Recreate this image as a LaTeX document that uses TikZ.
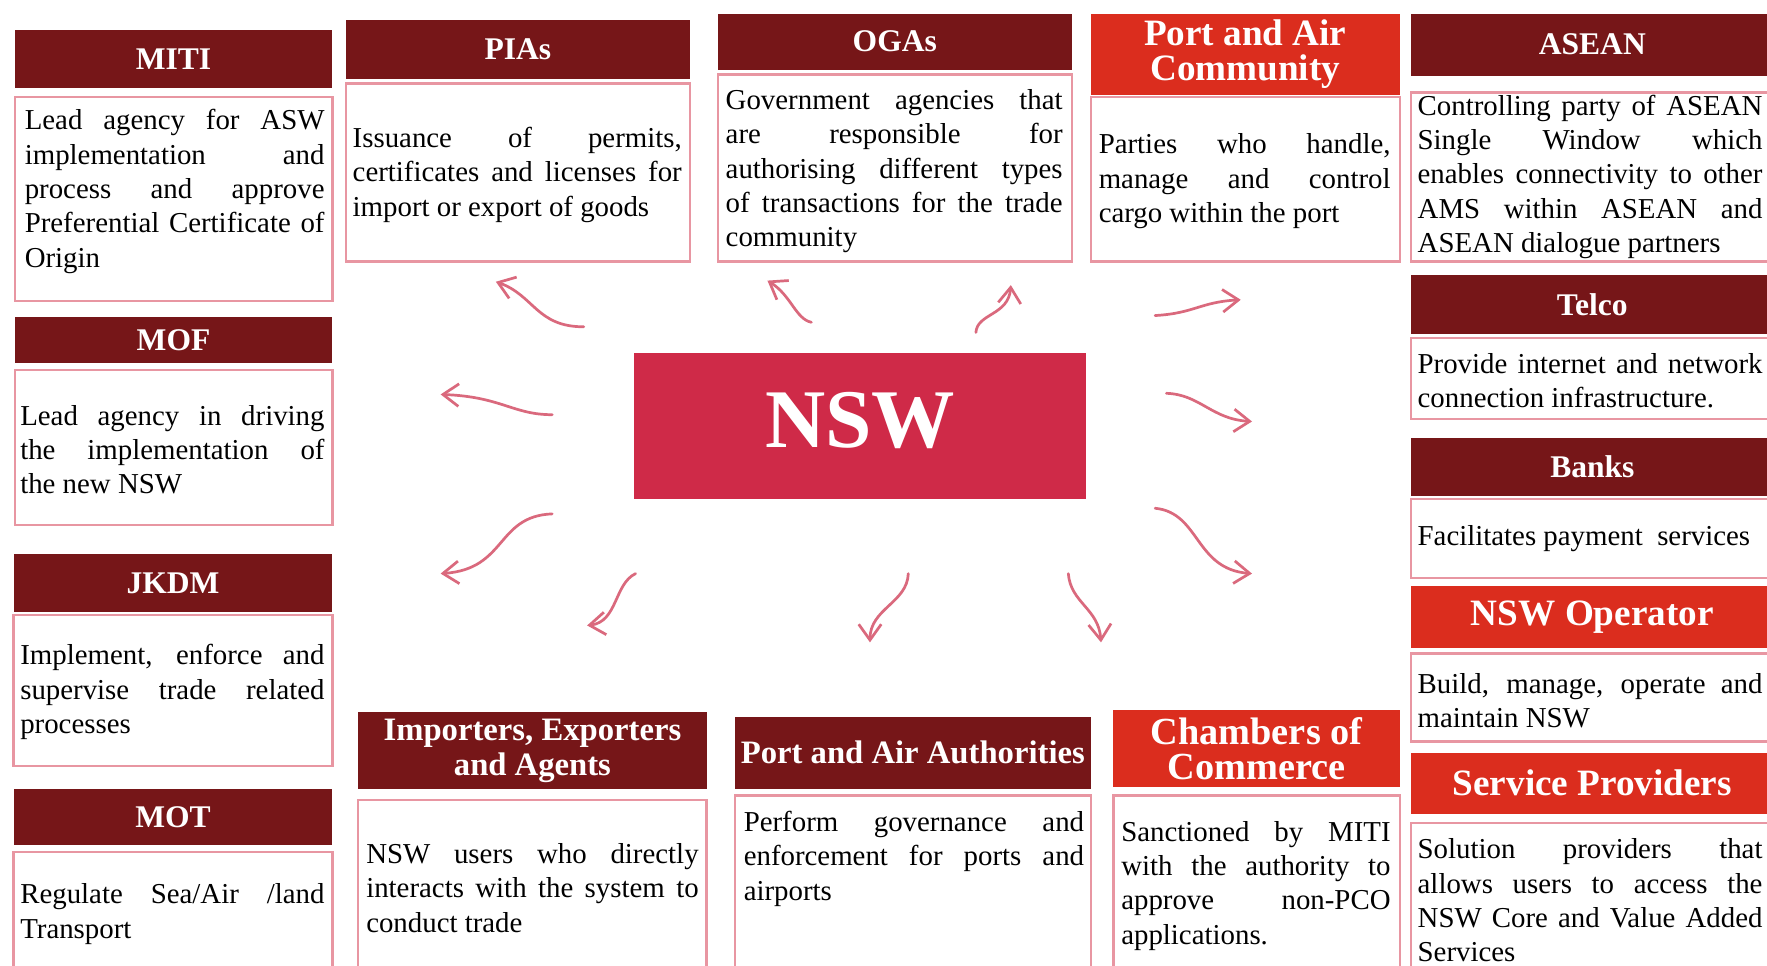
\documentclass[tikz,border=0pt]{standalone}
\usepackage{fontspec}
\setmainfont{Liberation Serif}
\usetikzlibrary{arrows.meta}
\definecolor{hdrdark}{RGB}{118,22,24}
\definecolor{hdrbright}{RGB}{219,45,30}
\definecolor{nswred}{RGB}{207,42,72}
\definecolor{boxline}{RGB}{232,150,162}
\definecolor{flowc}{RGB}{218,105,125}
\newcommand\bodyfnt{\fontsize{12.8}{15.25}\selectfont\tolerance=10000\hbadness=10000\hyphenpenalty=10000\exhyphenpenalty=10000}
\newcommand\hdrfnt{\bfseries\fontsize{14}{15.5}\selectfont}
\newcommand\hdrbigfnt{\bfseries\fontsize{14.5}{15.5}\selectfont}
\newcommand\hdrredfnt{\bfseries\fontsize{16.5}{15.3}\selectfont}
\tikzset{
  corners/.style n args={4}{minimum width={(#3-#1)*0.5pt}, minimum height={(#4-#2)*0.5pt}, at={({(#1+#3)/2},{(#2+#4)/2})}},
  hdr/.style={fill=hdrdark, text=white, font=\hdrfnt, align=center, inner sep=0pt, outer sep=0pt},
  hdrred/.style={hdr, fill=hdrbright, font=\hdrredfnt},
  bodybox/.style={draw=boxline, line width=1pt, fill=white, inner sep=0pt, outer sep=0pt},
  bodytext/.style={font=\bodyfnt, align=justify, inner sep=0pt, text=black},
  core/.style={fill=nswred, text=white, font=\bfseries\fontsize{37}{40}\selectfont, inner sep=0pt, text depth=5pt},
  flow/.style={draw=flowc, line width=1.2pt, line cap=round, -{Straight Barb[length=7pt,width=10pt]}}
}
\begin{document}
\begin{tikzpicture}[x=0.5pt,y=-0.5pt]
\useasboundingbox (0,0) rectangle (1568,857);
\fill[white] (0,0) rectangle (1568,857);

% ---------- left column ----------
\node[hdr, corners={13}{27}{295}{78}] (miti-h) {MITI};
\node[bodybox, corners={13}{86}{295}{267}] (miti-b) {};
\node[bodytext, text width=133pt] (miti-t) at (155,170) {Lead agency for ASW\linebreak implementation and\linebreak process and approve\linebreak Preferential Certificate of\linebreak Origin};

\node[hdr, corners={13}{281}{295}{322}] (mof-h) {MOF};
\node[bodybox, corners={13}{328}{295}{466}] (mof-b) {};
\node[bodytext, text width=135pt] (mof-t) at (153,399) {Lead agency in driving\linebreak the implementation of\linebreak the new NSW};

\node[hdr, corners={12}{492}{295}{543}] (jkdm-h) {JKDM};
\node[bodybox, corners={12}{546}{295}{680}] (jkdm-b) {};
\node[bodytext, text width=135pt] (jkdm-t) at (153,614) {Implement, enforce and\linebreak supervise trade related\linebreak processes};

\node[hdr, corners={12}{700}{295}{750}] (mot-h) {MOT};
\node[bodybox, corners={12}{756}{295}{875}] (mot-b) {};
\node[bodytext, text width=135pt] (mot-t) at (153,811) {Regulate Sea/Air /land\linebreak Transport};

% ---------- top row ----------
\node[hdr, corners={307}{18}{612}{70}] (pia-h) {PIAs};
\node[bodybox, corners={307}{74}{612}{232}] (pia-b) {};
\node[bodytext, text width=146pt] (pia-t) at (459,155) {Issuance of permits,\linebreak certificates and licenses for\linebreak import or export of goods};

\node[hdr, corners={637}{12}{951}{62}] (oga-h) {OGAs};
\node[bodybox, corners={637}{66}{951}{232}] (oga-b) {};
\node[bodytext, text width=149.5pt] (oga-t) at (793.5,152) {Government agencies that\linebreak are responsible for\linebreak authorising different types\linebreak of transactions for the trade\linebreak community};

\node[hdrred, corners={968}{12}{1242}{84}] (pac-h) {Port and Air\\Community};
\node[bodybox, corners={968}{86}{1242}{232}] (pac-b) {};
\node[bodytext, text width=129.5pt] (pac-t) at (1104.5,161) {Parties who handle,\linebreak manage and control\linebreak cargo within the port};

% ---------- right column ----------
\node[hdr, corners={1252}{12}{1574}{67}] (asean-h) {ASEAN};
\node[bodybox, corners={1252}{82}{1574}{232}] (asean-b) {};
\node[bodytext, text width=153pt] (asean-t) at (1411,157) {Controlling party of ASEAN\linebreak Single Window which\linebreak enables connectivity to other\linebreak AMS within ASEAN and\linebreak ASEAN dialogue partners};

\node[hdr, corners={1252}{244}{1574}{296}] (telco-h) {Telco};
\node[bodybox, corners={1252}{300}{1574}{372}] (telco-b) {};
\node[bodytext, text width=153pt] (telco-t) at (1411,338) {Provide internet and network\linebreak connection infrastructure.};

\node[hdr, corners={1252}{389}{1574}{440}] (bank-h) {Banks};
\node[bodybox, corners={1252}{443}{1574}{513}] (bank-b) {};
\node[bodytext, text width=153pt] (bank-t) at (1411,478) {Facilitates payment \ services};

\node[hdrred, corners={1252}{520}{1574}{575}] (op-h) {NSW Operator};
\node[bodybox, corners={1252}{580}{1574}{658}] (op-b) {};
\node[bodytext, text width=153pt] (op-t) at (1411,622) {Build, manage, operate and\linebreak maintain NSW};

\node[hdrred, corners={1252}{668}{1574}{722}] (sp-h) {Service Providers};
\node[bodybox, corners={1252}{730}{1574}{875}] (sp-b) {};
\node[bodytext, text width=153pt] (sp-t) at (1411,799) {Solution providers that\linebreak allows users to access the\linebreak NSW Core and Value Added\linebreak Services};

% ---------- bottom row ----------
\node[hdr, font=\hdrbigfnt, corners={318}{632}{627}{700}] (imp-h) {Importers, Exporters\\and Agents};
\node[bodybox, corners={318}{710}{627}{875}] (imp-b) {};
\node[bodytext, text width=147.5pt] (imp-t) at (472.5,788) {NSW users who directly\linebreak interacts with the system to\linebreak conduct trade};

\node[hdr, font=\hdrbigfnt, corners={652}{636}{968}{700}] (paa-h) {Port and Air Authorities};
\node[bodybox, corners={652}{706}{968}{875}] (paa-b) {};
\node[bodytext, text width=151pt] (paa-t) at (811,762) {Perform governance and\linebreak enforcement for ports and\linebreak airports};

\node[hdrred, font=\bfseries\fontsize{17}{15.5}\selectfont, corners={988}{630}{1242}{698}] (cc-h) {Chambers of\\Commerce};
\node[bodybox, corners={988}{706}{1242}{875}] (cc-b) {};
\node[bodytext, text width=119.5pt] (cc-t) at (1114.5,786) {Sanctioned by MITI\linebreak with the authority to\linebreak approve non-PCO\linebreak applications.};

% ---------- centre ----------
\node[core, corners={563}{313}{964}{443}] (nsw) {NSW};

% ---------- arrows ----------
\coordinate (s1) at (518,290);  \coordinate (e1) at (440,250);
\coordinate (s2) at (720,286);  \coordinate (e2) at (681,249);
\coordinate (s3) at (866,295);  \coordinate (e3) at (897,253);
\coordinate (s4) at (1025,280); \coordinate (e4) at (1101,266);
\coordinate (s5) at (1035,349); \coordinate (e5) at (1111,374);
\coordinate (s6) at (1025,451); \coordinate (e6) at (1111,509);
\coordinate (s7) at (948,509);  \coordinate (e7) at (977,570);
\coordinate (s8) at (806,509);  \coordinate (e8) at (772,570);
\coordinate (s9) at (564,509);  \coordinate (e9) at (521,555);
\coordinate (s10) at (490,456); \coordinate (e10) at (391,509);
\coordinate (s11) at (490,368); \coordinate (e11) at (391,350);

\draw[flow] (s1) .. controls (476,290) and (474,262) .. (e1);
\draw[flow] (s2) .. controls (706,283) and (702,262) .. (e2);
\draw[flow] (s3) .. controls (867,278) and (895,280) .. (e3);
\draw[flow] (s4) .. controls (1060,278) and (1065,268) .. (e4);
\draw[flow] (s5) .. controls (1065,350) and (1075,372) .. (e5);
\draw[flow] (s6) .. controls (1065,455) and (1060,505) .. (e6);
\draw[flow] (s7) .. controls (950,535) and (975,540) .. (e7);
\draw[flow] (s8) .. controls (805,535) and (772,540) .. (e8);
\draw[flow] (s9) .. controls (545,518) and (548,552) .. (e9);
\draw[flow] (s10) .. controls (440,458) and (450,505) .. (e10);
\draw[flow] (s11) .. controls (455,368) and (445,352) .. (e11);
\end{tikzpicture}
\end{document}
